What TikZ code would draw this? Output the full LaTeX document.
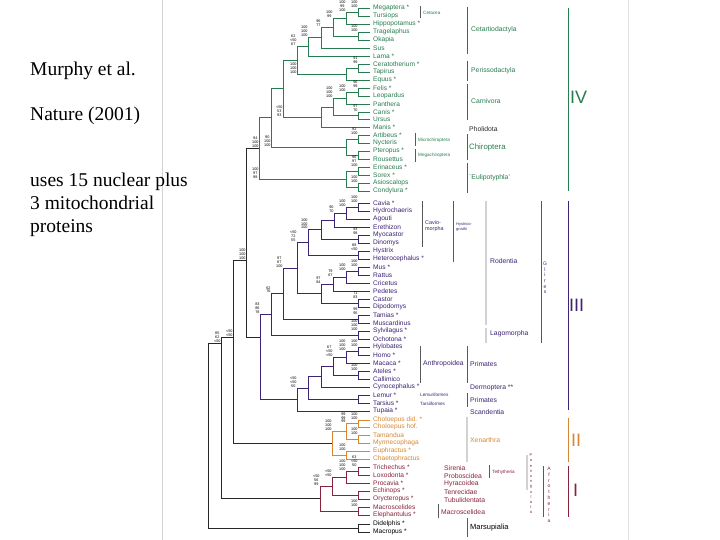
\documentclass[tikz,border=0pt]{standalone}
\usepackage{fontspec}
\setmainfont{Liberation Serif}
\newfontfamily\sanf{Liberation Sans}
\definecolor{cG}{RGB}{40,125,80}
\definecolor{cP}{RGB}{60,35,115}
\definecolor{cO}{RGB}{215,135,50}
\definecolor{cR}{RGB}{135,35,60}
\definecolor{cK}{RGB}{40,40,40}
\newcommand\nd[6][cK]{\draw[#1,line width=0.7pt] (#3,#4)--(#2,#4)--(#2,#6)--(#5,#6);}
\newcommand\bs[3]{\node[bsn] at (#1,#2) {#3};}
\begin{document}
\begin{tikzpicture}[x=1pt,y=-1pt,
  lf/.style={anchor=west,inner sep=0pt,font=\sanf\fontsize{6.6}{7}\selectfont},
  bsn/.style={anchor=south east,inner sep=0.3pt,align=center,font=\sanf\fontsize{3.8}{3.9}\selectfont},
  grp/.style={anchor=west,inner sep=0pt,align=left,font=\sanf\fontsize{6.8}{7.2}\selectfont},
  sgrp/.style={anchor=west,inner sep=0pt,align=left,font=\sanf\fontsize{4.6}{5}\selectfont},
  bar/.style={draw=gray!70!black,line width=0.8pt},
  lbar/.style={draw=gray!35,line width=1.2pt},
  tree/.style={cK,line width=0.7pt},
  roman/.style={inner sep=0pt,font=\sanf\fontsize{18}{18}\selectfont},
  vert/.style={inner sep=0pt,align=center,font=\sanf\fontsize{5}{5.6}\selectfont},
  lefttxt/.style={anchor=west,inner sep=0pt,align=left,font=\fontsize{19.5}{23}\selectfont}]
\useasboundingbox (0,0) rectangle (720,540);
\fill[white] (0,0) rectangle (720,540);
\draw[gray!35] (162,0)--(162,540);
\draw[gray!25] (628,0)--(628,540);
% left text
\node[lefttxt] (t1) at (30,71) {Murphy et al.};
\node[lefttxt] (t2) at (30,116) {Nature (2001)};
\node[lefttxt] (t3) at (30,205) {uses 15 nuclear plus\\3 mitochondrial\\proteins};
% ---- green
\nd[cG]{358}{370}{8}{370}{16}
\nd[cG]{346}{358}{12}{370}{24}
\nd[cG]{358}{370}{32}{370}{40}
\nd[cG]{333}{346}{18}{358}{36}
\nd[cG]{321}{333}{27}{370}{48}
\nd[cG]{308}{321}{37}{370}{56}
\nd[cG]{358}{370}{64}{370}{72}
\nd[cG]{346}{358}{68}{370}{80}
\nd[cG]{297}{308}{46}{346}{74}
\nd[cG]{358}{370}{88}{370}{96}
\nd[cG]{346}{358}{92}{370}{104}
\nd[cG]{358}{370}{112}{370}{119}
\nd[cG]{333}{346}{98}{358}{115.5}
\nd[cG]{321}{333}{107}{370}{127}
\nd[cG]{283}{297}{60}{321}{117}
\nd[cG]{358}{370}{135}{370}{143}
\nd[cG]{358}{370}{151}{370}{159}
\nd[cG]{346}{358}{139}{358}{155}
\nd[cG]{271}{283}{88}{346}{147}
\nd[cG]{358}{370}{167}{370}{175}
\nd[cG]{358}{370}{183}{370}{191}
\nd[cG]{346}{358}{171}{358}{187}
\nd[cG]{259}{271}{117}{346}{179}
% ---- purple
\nd[cP]{358}{370}{203}{370}{211}
\nd[cP]{346}{358}{207}{370}{219}
\nd[cP]{334}{346}{213}{370}{227}
\nd[cP]{358}{370}{235}{370}{243}
\nd[cP]{321}{334}{220}{358}{239}
\nd[cP]{358}{370}{251}{370}{259}
\nd[cP]{308}{321}{229.5}{358}{255}
\nd[cP]{358}{370}{267}{370}{275}
\nd[cP]{346}{358}{271}{370}{283}
\nd[cP]{333}{346}{277}{370}{291}
\nd[cP]{358}{370}{299}{370}{307}
\nd[cP]{321}{333}{284}{358}{303}
\nd[cP]{297}{308}{242}{321}{293.5}
\nd[cP]{358}{370}{315}{370}{323}
\nd[cP]{283}{297}{268}{358}{319}
\nd[cP]{358}{370}{331}{370}{339}
\nd[cP]{271}{283}{293.5}{358}{335}
\nd[cP]{358}{370}{347}{370}{355}
\nd[cP]{346}{358}{351}{370}{363}
\nd[cP]{358}{370}{371}{370}{379}
\nd[cP]{333}{346}{357}{358}{375}
\nd[cP]{321}{333}{366}{370}{387}
\nd[cP]{358}{370}{395}{370}{403}
\nd[cP]{308}{321}{376.5}{358}{399}
\nd[cP]{297}{308}{388}{370}{411}
\nd[cP]{260}{271}{314}{297}{399.5}
% ---- orange
\nd[cO]{358}{370}{420}{370}{427}
\nd[cO]{358}{370}{435}{370}{443}
\nd[cO]{346}{358}{423.5}{358}{439}
\nd[cO]{346}{370}{451}{370}{459}
\nd[cO]{332}{346}{431}{346}{455}
% ---- red
\nd[cR]{358}{370}{467}{370}{475}
\nd[cR]{346}{358}{471}{370}{483}
\nd[cR]{358}{370}{491}{370}{499}
\nd[cR]{332}{346}{477}{358}{495}
\nd[cR]{358}{370}{507}{370}{515}
\nd[cR]{320}{332}{486}{358}{511}
\nd{358}{370}{524}{370}{532}
% deep nodes
\draw[tree] (259,148)--(246,148)--(246,337)--(260,337);
\draw[tree] (246,260)--(233,260)--(233,443)--(332,443);
\draw[tree] (233,337)--(221,337)--(221,498.5)--(320,498.5);
\draw[tree] (221,343)--(208,343)--(208,528)--(358,528);
% bootstrap values
\bs{358}{8}{100\\100}
\bs{346}{12}{100\\99\\100}
\bs{333}{18}{100\\99}
\bs{321}{27}{96\\77}
\bs{308}{37}{100\\100\\100}
\bs{297}{46}{62\\<50\\67}
\bs{358}{32}{100\\100}
\bs{358}{64}{91\\99}
\bs{297}{74}{100\\100\\100}
\bs{358}{88}{96\\99}
\bs{346}{92}{100\\100}
\bs{333}{98}{100\\100\\100}
\bs{358}{112}{97\\70}
\bs{283}{117}{<50\\53\\93}
\bs{358}{135}{92\\100}
\bs{271}{147}{90\\100\\100}
\bs{259}{179}{100\\97\\98}
\bs{358}{167}{96\\97\\100}
\bs{358}{183}{100\\100}
\bs{259}{148}{94\\100\\100}
\bs{358}{203}{100\\100}
\bs{346}{207}{100\\100}
\bs{334}{213}{90\\70}
\bs{308}{229.5}{100\\100\\100}
\bs{358}{235}{93\\98}
\bs{358}{251}{88\\<50}
\bs{358}{267}{100\\100}
\bs{346}{271}{100\\100}
\bs{333}{277}{79\\67}
\bs{321}{284}{97\\84}
\bs{358}{299}{71\\83}
\bs{297}{242}{<50\\72\\55}
\bs{283}{268}{97\\87\\100}
\bs{358}{315}{99\\95}
\bs{358}{331}{100\\100\\100}
\bs{271}{293.5}{62\\76}
\bs{260}{314}{83\\86\\78}
\bs{358}{347}{100\\100}
\bs{346}{351}{100\\100\\100}
\bs{333}{357}{67\\<50\\<50}
\bs{358}{371}{100\\100}
\bs{297}{388}{<50\\<50\\50}
\bs{246}{260}{100\\100\\100}
\bs{358}{420}{100\\100}
\bs{346}{423.5}{99\\99\\99}
\bs{358}{435}{100\\100}
\bs{332}{431}{100\\100\\100}
\bs{346}{451}{100\\100}
\bs{358}{467}{63\\<50\\50}
\bs{346}{471}{100\\100\\100}
\bs{332}{477}{<50\\<50}
\bs{320}{486}{<50\\56\\99}
\bs{358}{507}{100\\100}
\bs{221}{343}{85\\62\\<50}
\bs{233}{337}{<50\\<50}
% leaf labels
\foreach \n/\y/\t in {a1/8/Megaptera *,a2/16/Tursiops,a3/24/Hippopotamus *,a4/32/Tragelaphus,a5/40/Okapia,a6/48/Sus,a7/56/Lama *,a8/64/Ceratotherium *,a9/72/Tapirus,a10/80/Equus *,a11/88/Felis *,a12/96/Leopardus,a13/104/Panthera,a14/112/Canis *,a15/119/Ursus,a16/127/Manis *,a17/135/Artibeus *,a18/143/Nycteris,a19/151/Pteropus *,a20/159/Rousettus,a21/167/Erinaceus *,a22/175/Sorex *,a23/183/Asioscalops,a24/191/Condylura *}
  \node[lf,text=cG] (\n) at (373,\y) {\t};
\foreach \n/\y/\t in {b1/203/Cavia *,b2/211/Hydrochaeris,b3/219/Agouti,b4/227/Erethizon,b5/235/Myocastor,b6/243/Dinomys,b7/251/Hystrix,b8/259/Heterocephalus *,b9/267/Mus *,b10/275/Rattus,b11/283/Cricetus,b12/291/Pedetes,b13/299/Castor,b14/307/Dipodomys,b15/315/Tamias *,b16/323/Muscardinus,b17/331/Sylvilagus *,b18/339/Ochotona *,b19/347/Hylobates,b20/355/Homo *,b21/363/Macaca *,b22/371/Ateles *,b23/379/Callimico,b24/387/Cynocephalus */ **,b25/395/Lemur *,b26/403/Tarsius *,b27/411/Tupaia *}
  \node[lf,text=cP] (\n) at (373,\y) {\t};
\foreach \n/\y/\t in {c1/420/Choloepus did. *,c2/427/Choloepus hof.,c3/435/Tamandua,c4/443/Myrmecophaga,c5/451/Euphractus *,c6/459/Chaetophractus}
  \node[lf,text=cO] (\n) at (373,\y) {\t};
\foreach \n/\y/\t in {d1/467/Trichechus *,d2/475/Loxodonta *,d3/483/Procavia *,d4/491/Echinops *,d5/499/Orycteropus *,d6/507/Macroscelides,d7/515/Elephantulus *}
  \node[lf,text=cR] (\n) at (373,\y) {\t};
\node[lf,text=black] (e1) at (373,524) {Didelphis *};
\node[lf,text=black] (e2) at (373,532) {Macropus *};
% group labels and bars
\draw[bar] (420,6)--(420,18); \node[sgrp,text=cG] (g1) at (423,13) {Cetacea};
\draw[bar] (467,7)--(467,54); \node[grp,text=cG] (g2) at (471,30) {Cetartiodactyla};
\draw[bar] (467,61)--(467,81); \node[grp,text=cG] (g3) at (471,71) {Perissodactyla};
\draw[bar] (467,84)--(467,120); \node[grp,text=cG] (g4) at (471,101) {Carnivora};
\node[grp,text=cK] (g5) at (469,129) {Pholidota};
\draw[bar] (467,134)--(467,160); \node[grp,text=cG,font=\sanf\fontsize{7.8}{8}\selectfont] (g6) at (469,147) {Chiroptera};
\draw[bar] (467,163)--(467,193); \node[grp,text=cG] (g7) at (469,178) {`Eulipotyphla'};
\draw[bar] (415,133)--(415,146); \node[sgrp,text=cG] (g8) at (418,140) {Microchiroptera};
\draw[bar] (415,149)--(415,162); \node[sgrp,text=cG] (g9) at (418,155) {Megachiroptera};
\draw[draw=cG,line width=1pt] (568,8)--(568,191); \node[roman,text=cG,anchor=west] (r4) at (570,97) {IV};
\draw[bar] (422,201)--(422,247); \node[sgrp,text=cP,font=\sanf\fontsize{5.4}{6}\selectfont] (h1) at (425,226) {Cavio-\\morpha};
\draw[bar] (453,201)--(453,262); \node[sgrp,text=cP,font=\sanf\fontsize{4}{4.6}\selectfont] (h2) at (456,227) {Hystrico-\\gnathi};
\draw[lbar] (486,201)--(486,325); \node[grp,text=cP] (h3) at (490,261) {Rodentia};
\draw[lbar] (486,328)--(486,343); \node[grp,text=cP] (h4) at (490,334) {Lagomorpha};
\draw[bar] (541,201)--(541,343); \node[vert,text=cP] (h5) at (545,278) {G\\l\\i\\r\\e\\s};
\draw[draw=cP,line width=1pt] (568,201)--(568,410); \node[roman,text=cP,anchor=west] (r3) at (569,305) {III};
\draw[bar] (420,346)--(420,383); \node[grp,text=cP] (h6) at (423,364) {Anthropoidea};
\draw[bar] (467,346)--(467,383); \node[grp,text=cP] (h7) at (470,364) {Primates};
\node[grp,text=cP] (h8) at (470,388) {Dermoptera **};
\node[sgrp,text=cP] (h9) at (420,395) {Lemuriformes};
\node[sgrp,text=cP] (h10) at (420,404) {Tarsiiformes};
\draw[bar] (467,393)--(467,407); \node[grp,text=cP] (h11) at (470,400) {Primates};
\node[grp,text=cP] (h12) at (470,412) {Scandentia};
\draw[lbar] (467,417)--(467,462); \node[grp,text=cO] (x1) at (470,440) {Xenarthra};
\draw[draw=cO,line width=1pt] (568,418)--(568,462); \node[roman,text=cO,anchor=west] (r2) at (571,440) {II};
\node[grp,text=cR] (s1) at (444,468) {Sirenia};
\node[grp,text=cR] (s2) at (444,476) {Proboscidea};
\node[grp,text=cR] (s3) at (444,484) {Hyracoidea};
\node[grp,text=cR] (s4) at (444,492) {Tenrecidae};
\node[grp,text=cR] (s5) at (444,500) {Tubulidentata};
\draw[bar] (489,465)--(489,478); \node[sgrp,text=cR] (s6) at (492,472) {Tethytheria};
\draw[lbar] (527,455)--(527,490); \node[vert,text=cR,font=\sanf\fontsize{4}{5.2}\selectfont] (s7) at (531,484) {P\\a\\e\\n\\u\\n\\g\\u\\l\\a\\t\\a};
\draw[bar] (438,504)--(438,518); \node[grp,text=cR] (s8) at (441,512) {Macroscelidea};
\draw[bar] (543,466)--(543,517); \node[vert,text=cR,font=\sanf\fontsize{5}{5.8}\selectfont] (s9) at (549,495) {A\\f\\r\\o\\t\\h\\e\\r\\i\\a};
\draw[draw=cR,line width=1pt] (568,466)--(568,517); \node[roman,text=cR,anchor=west] (r1) at (573,490) {I};
\draw[bar] (467,518)--(467,537); \node[grp,text=black,font=\sanf\fontsize{7.5}{8}\selectfont] (m1) at (470,528) {Marsupialia};
\end{tikzpicture}
\end{document}
